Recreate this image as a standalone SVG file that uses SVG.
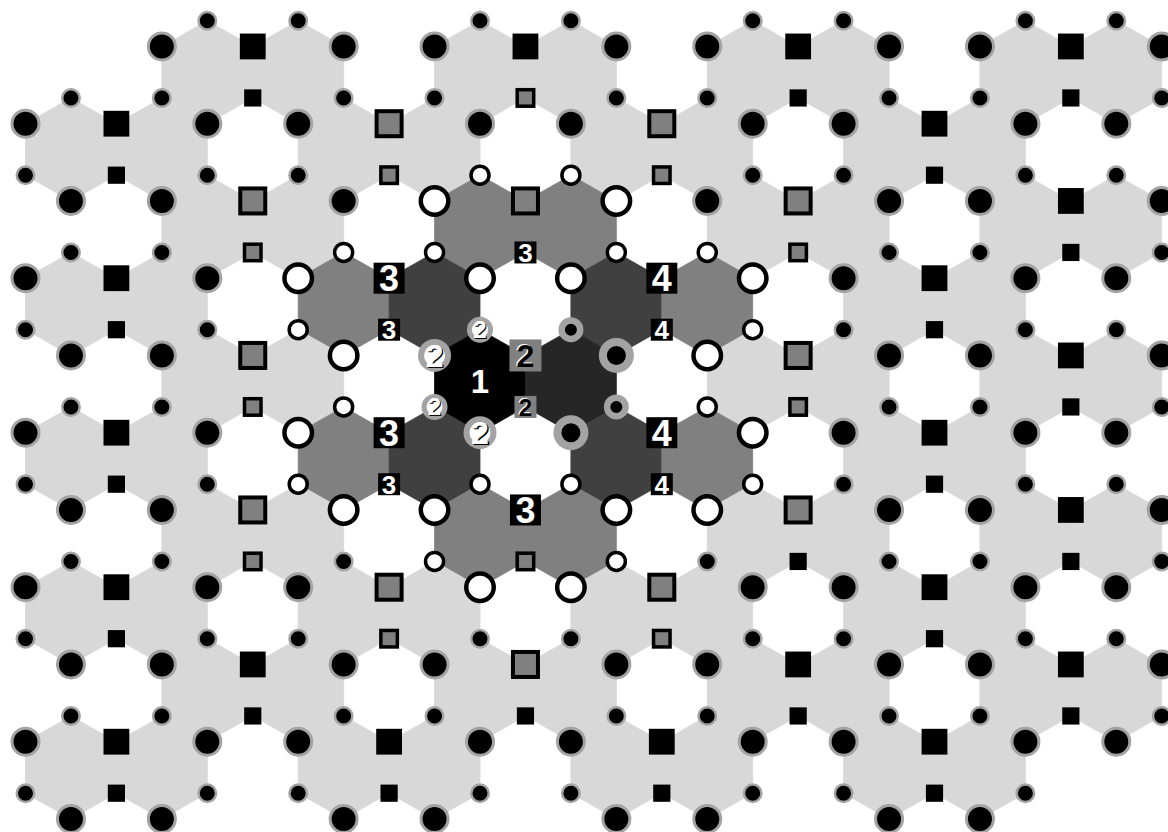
<svg xmlns="http://www.w3.org/2000/svg" width="1168" height="832" viewBox="0 0 1168 832">
<style>
.l{fill:#d8d8d8;stroke:#d8d8d8;stroke-width:.8}
.m{fill:#808080;stroke:#808080;stroke-width:.8}
.d{fill:#404040;stroke:#404040;stroke-width:.8}
.v{fill:#262626;stroke:#262626;stroke-width:.8}
.k{fill:#000;stroke:#000;stroke-width:.8}
text{font-family:"Liberation Sans",Arial,sans-serif;font-weight:bold;text-anchor:middle}
.tw{fill:#fff}
.tb{fill:#000}
.f36{font-size:36px}
.f26{font-size:26px}
.f32{font-size:32px}
.f31{font-size:31px}
.f24{font-size:24px}
.f23{font-size:23px}
</style>
<defs>
<polygon id="h" points="0,-51.5 45.45,-25.75 45.45,25.75 0,51.5 -45.45,25.75 -45.45,-25.75"/>
<circle id="bc" r="13.5" fill="#000" stroke="#a3a3a3" stroke-width="3"/>
<circle id="sc" r="8.75" fill="#000" stroke="#a3a3a3" stroke-width="2.5"/>
<rect id="bs" x="-12.9" y="-12.9" width="25.8" height="25.8" fill="#000"/>
<rect id="ss" x="-8.6" y="-8.6" width="17.2" height="17.2" fill="#000"/>
<rect id="bg" x="-12.5" y="-12.5" width="25" height="25" fill="#808080" stroke="#000" stroke-width="4"/>
<rect id="sg" x="-8.25" y="-8.25" width="16.5" height="16.5" fill="#808080" stroke="#000" stroke-width="3.5"/>
<circle id="bw" r="13.75" fill="#fff" stroke="#000" stroke-width="4.5"/>
<circle id="sw" r="9" fill="#fff" stroke="#000" stroke-width="3.5"/>
<circle id="br" r="13.5" fill="#000" stroke="#a3a3a3" stroke-width="8"/>
<circle id="sr" r="9.25" fill="#000" stroke="#a3a3a3" stroke-width="6.5"/>
<circle id="b2" r="13.5" fill="#fff" stroke="#a3a3a3" stroke-width="6"/>
<circle id="s2" r="10.5" fill="#fff" stroke="#a3a3a3" stroke-width="5"/>
<rect id="lb" x="-15.5" y="-15.5" width="31" height="31" fill="#000"/>
<rect id="ls" x="-11" y="-11" width="22" height="22" fill="#000"/>
<rect id="gb" x="-16" y="-16" width="32" height="32" fill="#808080"/>
<rect id="gs" x="-11" y="-11" width="22" height="22" fill="#808080"/>
</defs>
<rect width="1168" height="832" fill="#fff"/>
<g id="hexes">
<g transform="translate(0,72.2)"><use href="#h" class="l" x="207.3"/><use href="#h" class="l" x="298.2"/><use href="#h" class="l" x="480"/><use href="#h" class="l" x="570.9"/><use href="#h" class="l" x="752.7"/><use href="#h" class="l" x="843.6"/><use href="#h" class="l" x="1025.4"/><use href="#h" class="l" x="1116.3"/></g>
<g transform="translate(0,149.45)"><use href="#h" class="l" x="70.95"/><use href="#h" class="l" x="161.85"/><use href="#h" class="l" x="343.65"/><use href="#h" class="l" x="434.55"/><use href="#h" class="l" x="616.35"/><use href="#h" class="l" x="707.25"/><use href="#h" class="l" x="889.05"/><use href="#h" class="l" x="979.95"/></g>
<g transform="translate(0,226.7)"><use href="#h" class="l" x="207.3"/><use href="#h" class="l" x="298.2"/><use href="#h" class="m" x="480"/><use href="#h" class="m" x="570.9"/><use href="#h" class="l" x="752.7"/><use href="#h" class="l" x="843.6"/><use href="#h" class="l" x="1025.4"/><use href="#h" class="l" x="1116.3"/></g>
<g transform="translate(0,303.95)"><use href="#h" class="l" x="70.95"/><use href="#h" class="l" x="161.85"/><use href="#h" class="m" x="343.65"/><use href="#h" class="d" x="434.55"/><use href="#h" class="d" x="616.35"/><use href="#h" class="m" x="707.25"/><use href="#h" class="l" x="889.05"/><use href="#h" class="l" x="979.95"/></g>
<g transform="translate(0,381.2)"><use href="#h" class="l" x="207.3"/><use href="#h" class="l" x="298.2"/><use href="#h" class="k" x="480"/><use href="#h" class="v" x="570.9"/><use href="#h" class="l" x="752.7"/><use href="#h" class="l" x="843.6"/><use href="#h" class="l" x="1025.4"/><use href="#h" class="l" x="1116.3"/></g>
<g transform="translate(0,458.45)"><use href="#h" class="l" x="70.95"/><use href="#h" class="l" x="161.85"/><use href="#h" class="m" x="343.65"/><use href="#h" class="d" x="434.55"/><use href="#h" class="d" x="616.35"/><use href="#h" class="m" x="707.25"/><use href="#h" class="l" x="889.05"/><use href="#h" class="l" x="979.95"/></g>
<g transform="translate(0,535.7)"><use href="#h" class="l" x="207.3"/><use href="#h" class="l" x="298.2"/><use href="#h" class="m" x="480"/><use href="#h" class="m" x="570.9"/><use href="#h" class="l" x="752.7"/><use href="#h" class="l" x="843.6"/><use href="#h" class="l" x="1025.4"/><use href="#h" class="l" x="1116.3"/></g>
<g transform="translate(0,612.95)"><use href="#h" class="l" x="70.95"/><use href="#h" class="l" x="161.85"/><use href="#h" class="l" x="343.65"/><use href="#h" class="l" x="434.55"/><use href="#h" class="l" x="616.35"/><use href="#h" class="l" x="707.25"/><use href="#h" class="l" x="889.05"/><use href="#h" class="l" x="979.95"/></g>
<g transform="translate(0,690.2)"><use href="#h" class="l" x="207.3"/><use href="#h" class="l" x="298.2"/><use href="#h" class="l" x="480"/><use href="#h" class="l" x="570.9"/><use href="#h" class="l" x="752.7"/><use href="#h" class="l" x="843.6"/><use href="#h" class="l" x="1025.4"/><use href="#h" class="l" x="1116.3"/></g>
<g transform="translate(0,767.45)"><use href="#h" class="l" x="70.95"/><use href="#h" class="l" x="161.85"/><use href="#h" class="l" x="343.65"/><use href="#h" class="l" x="434.55"/><use href="#h" class="l" x="616.35"/><use href="#h" class="l" x="707.25"/><use href="#h" class="l" x="889.05"/><use href="#h" class="l" x="979.95"/></g>
</g>
<g id="markers">
<g transform="translate(0,20.7)"><use href="#sc" x="207.3"/><use href="#sc" x="298.2"/><use href="#sc" x="480"/><use href="#sc" x="570.9"/><use href="#sc" x="752.7"/><use href="#sc" x="843.6"/><use href="#sc" x="1025.4"/><use href="#sc" x="1116.3"/></g>
<g transform="translate(0,46.45)"><use href="#bc" x="161.85"/><use href="#bs" x="252.75"/><use href="#bc" x="343.65"/><use href="#bc" x="434.55"/><use href="#bs" x="525.45"/><use href="#bc" x="616.35"/><use href="#bc" x="707.25"/><use href="#bs" x="798.15"/><use href="#bc" x="889.05"/><use href="#bc" x="979.95"/><use href="#bs" x="1070.85"/><use href="#bc" x="1161.75"/></g>
<g transform="translate(0,97.95)"><use href="#sc" x="70.95"/><use href="#sc" x="161.85"/><use href="#ss" x="252.75"/><use href="#sc" x="343.65"/><use href="#sc" x="434.55"/><use href="#sg" x="525.45"/><use href="#sc" x="616.35"/><use href="#sc" x="707.25"/><use href="#ss" x="798.15"/><use href="#sc" x="889.05"/><use href="#sc" x="979.95"/><use href="#ss" x="1070.85"/><use href="#sc" x="1161.75"/></g>
<g transform="translate(0,123.7)"><use href="#bc" x="25.5"/><use href="#bs" x="116.4"/><use href="#bc" x="207.3"/><use href="#bc" x="298.2"/><use href="#bg" x="389.1"/><use href="#bc" x="480"/><use href="#bc" x="570.9"/><use href="#bg" x="661.8"/><use href="#bc" x="752.7"/><use href="#bc" x="843.6"/><use href="#bs" x="934.5"/><use href="#bc" x="1025.4"/><use href="#bc" x="1116.3"/></g>
<g transform="translate(0,175.2)"><use href="#sc" x="25.5"/><use href="#ss" x="116.4"/><use href="#sc" x="207.3"/><use href="#sc" x="298.2"/><use href="#sg" x="389.1"/><use href="#sw" x="480"/><use href="#sw" x="570.9"/><use href="#sg" x="661.8"/><use href="#sc" x="752.7"/><use href="#sc" x="843.6"/><use href="#ss" x="934.5"/><use href="#sc" x="1025.4"/><use href="#sc" x="1116.3"/></g>
<g transform="translate(0,200.95)"><use href="#bc" x="70.95"/><use href="#bc" x="161.85"/><use href="#bg" x="252.75"/><use href="#bc" x="343.65"/><use href="#bw" x="434.55"/><use href="#bg" x="525.45"/><use href="#bw" x="616.35"/><use href="#bc" x="707.25"/><use href="#bg" x="798.15"/><use href="#bc" x="889.05"/><use href="#bc" x="979.95"/><use href="#bs" x="1070.85"/><use href="#bc" x="1161.75"/></g>
<g transform="translate(0,252.45)"><use href="#sc" x="70.95"/><use href="#sc" x="161.85"/><use href="#sg" x="252.75"/><use href="#sw" x="343.65"/><use href="#sw" x="434.55"/><use href="#sw" x="616.35"/><use href="#sw" x="707.25"/><use href="#sg" x="798.15"/><use href="#sc" x="889.05"/><use href="#sc" x="979.95"/><use href="#ss" x="1070.85"/><use href="#sc" x="1161.75"/></g>
<g transform="translate(0,278.2)"><use href="#bc" x="25.5"/><use href="#bs" x="116.4"/><use href="#bc" x="207.3"/><use href="#bw" x="298.2"/><use href="#bw" x="480"/><use href="#bw" x="570.9"/><use href="#bw" x="752.7"/><use href="#bc" x="843.6"/><use href="#bs" x="934.5"/><use href="#bc" x="1025.4"/><use href="#bc" x="1116.3"/></g>
<g transform="translate(0,329.7)"><use href="#sc" x="25.5"/><use href="#ss" x="116.4"/><use href="#sc" x="207.3"/><use href="#sw" x="298.2"/><use href="#sr" x="570.9"/><use href="#sw" x="752.7"/><use href="#sc" x="843.6"/><use href="#ss" x="934.5"/><use href="#sc" x="1025.4"/><use href="#sc" x="1116.3"/></g>
<g transform="translate(0,355.45)"><use href="#bc" x="70.95"/><use href="#bc" x="161.85"/><use href="#bg" x="252.75"/><use href="#bw" x="343.65"/><use href="#br" x="616.35"/><use href="#bw" x="707.25"/><use href="#bg" x="798.15"/><use href="#bc" x="889.05"/><use href="#bc" x="979.95"/><use href="#bs" x="1070.85"/><use href="#bc" x="1161.75"/></g>
<g transform="translate(0,406.95)"><use href="#sc" x="70.95"/><use href="#sc" x="161.85"/><use href="#sg" x="252.75"/><use href="#sw" x="343.65"/><use href="#sr" x="616.35"/><use href="#sw" x="707.25"/><use href="#sg" x="798.15"/><use href="#sc" x="889.05"/><use href="#sc" x="979.95"/><use href="#ss" x="1070.85"/><use href="#sc" x="1161.75"/></g>
<g transform="translate(0,432.7)"><use href="#bc" x="25.5"/><use href="#bs" x="116.4"/><use href="#bc" x="207.3"/><use href="#bw" x="298.2"/><use href="#br" x="570.9"/><use href="#bw" x="752.7"/><use href="#bc" x="843.6"/><use href="#bs" x="934.5"/><use href="#bc" x="1025.4"/><use href="#bc" x="1116.3"/></g>
<g transform="translate(0,484.2)"><use href="#sc" x="25.5"/><use href="#ss" x="116.4"/><use href="#sc" x="207.3"/><use href="#sw" x="298.2"/><use href="#sw" x="480"/><use href="#sw" x="570.9"/><use href="#sw" x="752.7"/><use href="#sc" x="843.6"/><use href="#ss" x="934.5"/><use href="#sc" x="1025.4"/><use href="#sc" x="1116.3"/></g>
<g transform="translate(0,509.95)"><use href="#bc" x="70.95"/><use href="#bc" x="161.85"/><use href="#bg" x="252.75"/><use href="#bw" x="343.65"/><use href="#bw" x="434.55"/><use href="#bw" x="616.35"/><use href="#bw" x="707.25"/><use href="#bg" x="798.15"/><use href="#bc" x="889.05"/><use href="#bc" x="979.95"/><use href="#bs" x="1070.85"/><use href="#bc" x="1161.75"/></g>
<g transform="translate(0,561.45)"><use href="#sc" x="70.95"/><use href="#sc" x="161.85"/><use href="#sg" x="252.75"/><use href="#sc" x="343.65"/><use href="#sw" x="434.55"/><use href="#sg" x="525.45"/><use href="#sw" x="616.35"/><use href="#sc" x="707.25"/><use href="#ss" x="798.15"/><use href="#sc" x="889.05"/><use href="#sc" x="979.95"/><use href="#ss" x="1070.85"/><use href="#sc" x="1161.75"/></g>
<g transform="translate(0,587.2)"><use href="#bc" x="25.5"/><use href="#bs" x="116.4"/><use href="#bc" x="207.3"/><use href="#bc" x="298.2"/><use href="#bg" x="389.1"/><use href="#bw" x="480"/><use href="#bw" x="570.9"/><use href="#bg" x="661.8"/><use href="#bc" x="752.7"/><use href="#bc" x="843.6"/><use href="#bs" x="934.5"/><use href="#bc" x="1025.4"/><use href="#bc" x="1116.3"/></g>
<g transform="translate(0,638.7)"><use href="#sc" x="25.5"/><use href="#ss" x="116.4"/><use href="#sc" x="207.3"/><use href="#sc" x="298.2"/><use href="#sg" x="389.1"/><use href="#sc" x="480"/><use href="#sc" x="570.9"/><use href="#sg" x="661.8"/><use href="#sc" x="752.7"/><use href="#sc" x="843.6"/><use href="#ss" x="934.5"/><use href="#sc" x="1025.4"/><use href="#sc" x="1116.3"/></g>
<g transform="translate(0,664.45)"><use href="#bc" x="70.95"/><use href="#bc" x="161.85"/><use href="#bs" x="252.75"/><use href="#bc" x="343.65"/><use href="#bc" x="434.55"/><use href="#bg" x="525.45"/><use href="#bc" x="616.35"/><use href="#bc" x="707.25"/><use href="#bs" x="798.15"/><use href="#bc" x="889.05"/><use href="#bc" x="979.95"/><use href="#bs" x="1070.85"/><use href="#bc" x="1161.75"/></g>
<g transform="translate(0,715.95)"><use href="#sc" x="70.95"/><use href="#sc" x="161.85"/><use href="#ss" x="252.75"/><use href="#sc" x="343.65"/><use href="#sc" x="434.55"/><use href="#ss" x="525.45"/><use href="#sc" x="616.35"/><use href="#sc" x="707.25"/><use href="#ss" x="798.15"/><use href="#sc" x="889.05"/><use href="#sc" x="979.95"/><use href="#ss" x="1070.85"/><use href="#sc" x="1161.75"/></g>
<g transform="translate(0,741.7)"><use href="#bc" x="25.5"/><use href="#bs" x="116.4"/><use href="#bc" x="207.3"/><use href="#bc" x="298.2"/><use href="#bs" x="389.1"/><use href="#bc" x="480"/><use href="#bc" x="570.9"/><use href="#bs" x="661.8"/><use href="#bc" x="752.7"/><use href="#bc" x="843.6"/><use href="#bs" x="934.5"/><use href="#bc" x="1025.4"/><use href="#bc" x="1116.3"/></g>
<g transform="translate(0,793.2)"><use href="#sc" x="25.5"/><use href="#ss" x="116.4"/><use href="#sc" x="207.3"/><use href="#sc" x="298.2"/><use href="#ss" x="389.1"/><use href="#sc" x="480"/><use href="#sc" x="570.9"/><use href="#ss" x="661.8"/><use href="#sc" x="752.7"/><use href="#sc" x="843.6"/><use href="#ss" x="934.5"/><use href="#sc" x="1025.4"/></g>
<g transform="translate(0,818.95)"><use href="#bc" x="70.95"/><use href="#bc" x="161.85"/><use href="#bc" x="343.65"/><use href="#bc" x="434.55"/><use href="#bc" x="616.35"/><use href="#bc" x="707.25"/><use href="#bc" x="889.05"/><use href="#bc" x="979.95"/></g>
</g>
<g id="labels">
<g id="n1"><text x="480" y="393.2" class="tw" style="font-size:33px">1</text></g>
<g id="n2-sq"><use href="#gb" x="525.45" y="355.45"/><text x="524.2" y="365.9" class="tw f32">2</text><text x="525.45" y="367.1" class="tb f32">2</text>
<use href="#gs" x="525.45" y="406.95"/><text x="524.4" y="415" class="tw f24">2</text><text x="525.45" y="416" class="tb f24">2</text></g>
<g id="n2-c"><use href="#b2" x="434.55" y="355.45"/><text x="435.9" y="368.1" class="tb f32">2</text><text x="434.55" y="366.9" class="tw f32">2</text>
<use href="#b2" x="480" y="432.7"/><text x="481.3" y="445.3" class="tb f32">2</text><text x="480" y="444.1" class="tw f32">2</text>
<use href="#s2" x="480" y="329.7"/><text x="481" y="339" class="tb f24">2</text><text x="480" y="338" class="tw f24">2</text>
<use href="#s2" x="434.55" y="406.95"/><text x="435.55" y="416.25" class="tb f24">2</text><text x="434.55" y="415.25" class="tw f24">2</text></g>
<g id="n3"><use href="#lb" x="389.1" y="278.2"/><text x="389.1" y="291.1" class="tw f36">3</text>
<use href="#lb" x="389.1" y="432.7"/><text x="389.1" y="445.6" class="tw f36">3</text>
<use href="#lb" x="525.45" y="509.95"/><text x="525.45" y="522.85" class="tw f36">3</text>
<use href="#ls" x="389.1" y="329.7"/><text x="389.1" y="339" class="tw f26">3</text>
<use href="#ls" x="389.1" y="484.2"/><text x="389.1" y="493.5" class="tw f26">3</text>
<use href="#ls" x="525.45" y="252.45"/><text x="525.45" y="261.75" class="tw f26">3</text></g>
<g id="n4"><use href="#lb" x="661.8" y="278.2"/><text x="661.8" y="291.1" class="tw f36">4</text>
<use href="#lb" x="661.8" y="432.7"/><text x="661.8" y="445.6" class="tw f36">4</text>
<use href="#ls" x="661.8" y="329.7"/><text x="661.8" y="339" class="tw f26">4</text>
<use href="#ls" x="661.8" y="484.2"/><text x="661.8" y="493.5" class="tw f26">4</text></g>
</g>
</svg>
